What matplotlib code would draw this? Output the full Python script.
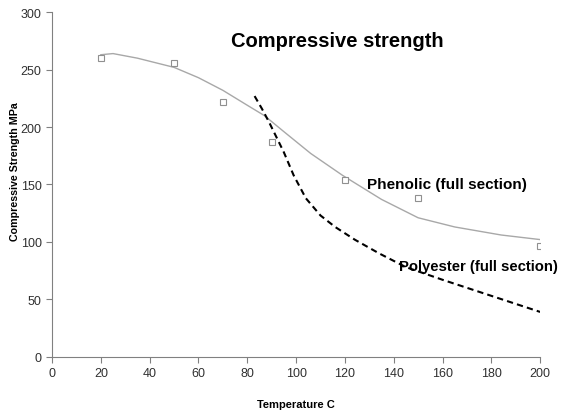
import matplotlib
matplotlib.use("Agg")
import matplotlib.pyplot as plt

# measured points (open squares)
meas_temp = [20, 50, 70, 90, 120, 150, 200]
meas_strength = [260, 256, 222, 187, 154, 138, 96]

# phenolic trend line
phen_temp = [20, 25, 35, 50, 60, 70, 80, 87, 95, 106, 119, 135, 150, 165, 184, 200]
phen_strength = [263, 264, 260, 252, 243, 232, 219, 210, 196, 177, 158, 137, 121, 113, 106, 102]

# polyester trend line
poly_temp = [83, 86, 89, 95, 99, 104, 110, 116, 124, 134, 145, 160, 180, 200]
poly_strength = [227, 216, 204, 178, 158, 138, 123, 113, 102, 90, 78, 67, 53, 39]

plt.rcParams['font.family'] = ['Liberation Sans', 'DejaVu Sans']

fig = plt.figure(figsize=(5.63, 4.14), dpi=100)
ax = fig.add_axes([0.0924, 0.136, 0.867, 0.832])

ax.plot(phen_temp, phen_strength, color='#a8a8a8', lw=1.0)
ax.plot(meas_temp, meas_strength, ls='none', marker='s', ms=4, mfc='white',
        mec='#909090', mew=0.8)
ax.plot(poly_temp, poly_strength, color='black', lw=1.5, ls=(0, (3, 2)))

ax.text(129, 150, "Phenolic (full section)", fontsize=11, fontweight='bold',
        va='center', ha='left')
ax.text(142, 79, "Polyester (full section)", fontsize=10.7, fontweight='bold',
        va='center', ha='left')
ax.text(117, 275, "Compressive strength", fontsize=14.5, fontweight='bold',
        va='center', ha='center')

ax.set_xlim(0, 200)
ax.set_ylim(0, 300)
ax.set_xticks(range(0, 201, 20))
ax.set_yticks(range(0, 301, 50))

for s in ['top', 'right']:
    ax.spines[s].set_visible(False)
for s in ['left', 'bottom']:
    ax.spines[s].set_color('#808080')
    ax.spines[s].set_linewidth(0.8)
ax.tick_params(colors='#808080', length=4, width=0.8, labelsize=9,
               labelcolor='#303030')

ax.set_xlabel("Temperature C", fontsize=8, fontweight='bold', labelpad=14)
ax.set_ylabel("Compressive Strength MPa", fontsize=7.7, fontweight='bold')
ax.yaxis.set_label_coords(-0.065, 0.54)

fig.savefig("out.png", dpi=100)
